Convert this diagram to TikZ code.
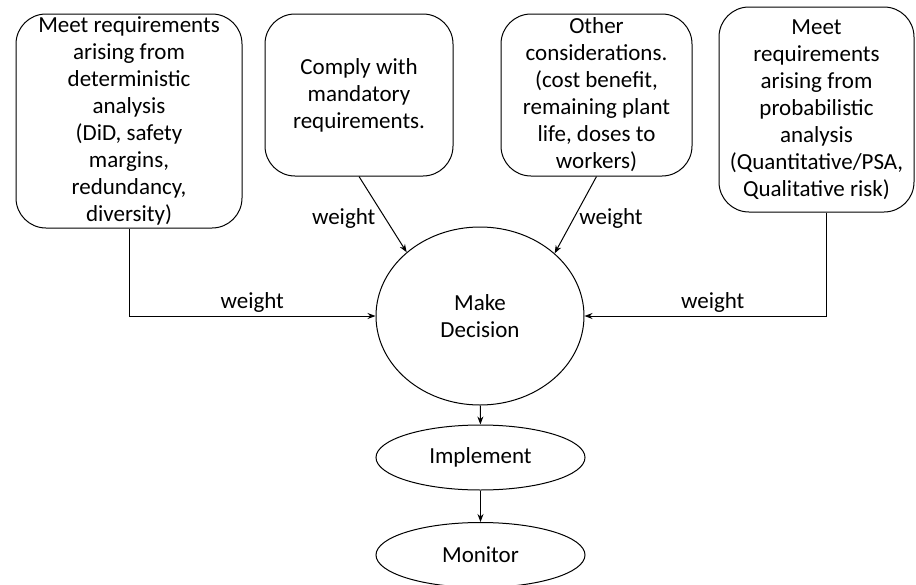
\documentclass[tikz,border=0pt]{standalone}
\usepackage{fontspec}
\setmainfont{Carlito}
\usetikzlibrary{arrows,arrows.meta,shapes}

\begin{document}
\begin{tikzpicture}[x=1pt, y=-1pt,
    font=\fontsize{23}{27}\selectfont,
    box/.style={draw, line width=1pt, rounded corners=30pt, align=center, inner sep=0pt},
    oval/.style={draw, line width=1pt, ellipse, align=center, inner sep=0pt},
    flow/.style={->, >={Stealth[length=8pt,width=6pt]}, line width=1pt}]
  \useasboundingbox (0,0) rectangle (916,584);
  \node[box, minimum width=226pt, minimum height=214pt] (det) at (129,121)
    {Meet requirements\\arising from\\deterministic\\analysis\\(DiD, safety\\margins,\\redundancy,\\diversity)};
  \node[box, minimum width=188pt, minimum height=162pt] (mand) at (359,95)
    {Comply with\\mandatory\\requirements.};
  \node[box, minimum width=191pt, minimum height=162pt] (other) at (596.5,95)
    {Other\\considerations.\\(cost benefit,\\remaining plant\\life, doses to\\workers)};
  \node[box, minimum width=195pt, minimum height=205pt] (prob) at (816.5,109.5)
    {Meet\\requirements\\arising from\\probabilistic\\analysis\\(Quantitative/PSA,\\Qualitative risk)};
  \node[oval, minimum width=208pt, minimum height=178pt] (decision) at (480,316) {Make\\Decision};
  \node[oval, minimum width=209pt, minimum height=65pt] (implement) at (480.5,457.5) {Implement};
  \node[oval, minimum width=209pt, minimum height=65pt] (monitor) at (480.5,555) {Monitor};
  \draw[flow] (det.south) |- node[pos=0.75, above] {weight} (decision.west);
  \draw[flow] ([xshift=10pt]prob.south) |- node[pos=0.735, above] {weight} (decision.east);
  \draw[flow] (mand.south) -- node[pos=0.55, left, xshift=-6pt] {weight} (decision.139);
  \draw[flow] (other.south) -- node[pos=0.55, right, xshift=2pt] {weight} (decision.40);
  \draw[flow] (decision) -- (implement);
  \draw[flow] (implement) -- (monitor);
  %\draw[flow, dashed] (decision) -- (monitor);
\end{tikzpicture}
\end{document}
